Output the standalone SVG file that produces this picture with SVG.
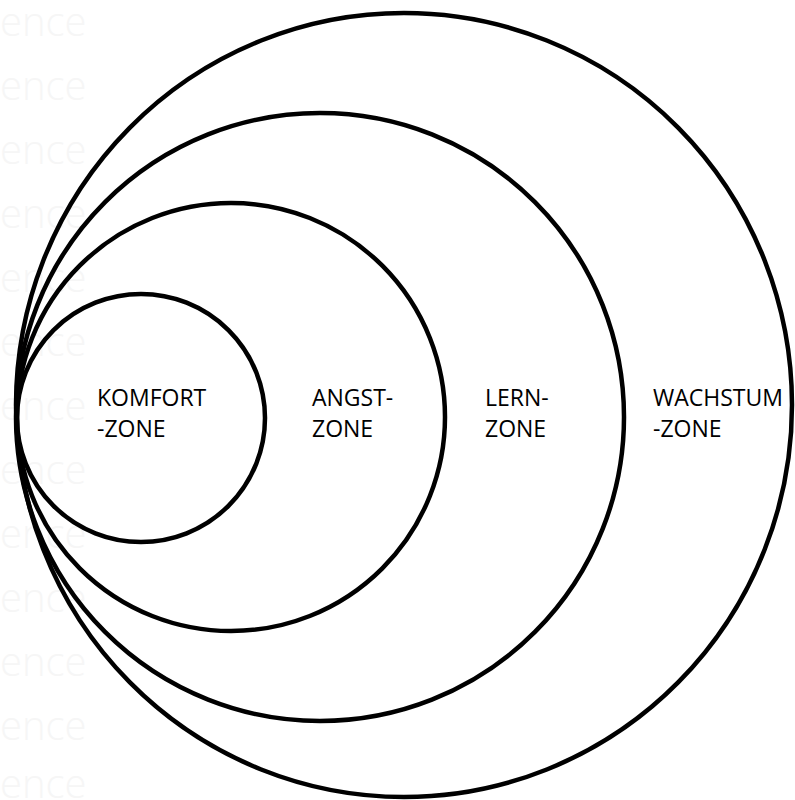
<svg xmlns="http://www.w3.org/2000/svg" width="795" height="800" viewBox="0 0 795 800">
<style>
.zone{fill:none;stroke:#000;stroke-width:4.5}
.lbl{font-family:"Open Sans","Liberation Sans",sans-serif;font-size:23px;fill:#000}
.wm{font-family:"Open Sans","Liberation Sans",sans-serif;font-weight:300;font-size:40px;fill:#f6f6f6}
</style>
<rect width="795" height="800" fill="#fff"/>
<g id="watermark">
<text class="wm" x="0" y="36">ence</text>
<text class="wm" x="0" y="100">ence</text>
<text class="wm" x="0" y="164">ence</text>
<text class="wm" x="0" y="228">ence</text>
<text class="wm" x="0" y="292">ence</text>
<text class="wm" x="0" y="356">ence</text>
<text class="wm" x="0" y="420">ence</text>
<text class="wm" x="0" y="484">ence</text>
<text class="wm" x="0" y="548">ence</text>
<text class="wm" x="0" y="612">ence</text>
<text class="wm" x="0" y="676">ence</text>
<text class="wm" x="0" y="740">ence</text>
<text class="wm" x="0" y="798">ence</text>
</g>
<g id="wachstum">
<ellipse class="zone" cx="404" cy="405" rx="388" ry="392"/>
<text class="lbl" x="653" y="406">WACHSTUM</text>
<text class="lbl" x="653" y="437">-ZONE</text>
</g>
<g id="lern">
<circle class="zone" cx="320" cy="417" r="304"/>
<text class="lbl" x="485" y="406">LERN-</text>
<text class="lbl" x="485" y="437">ZONE</text>
</g>
<g id="angst">
<circle class="zone" cx="231" cy="417" r="214"/>
<text class="lbl" x="312" y="406">ANGST-</text>
<text class="lbl" x="312" y="437">ZONE</text>
</g>
<g id="komfort">
<circle class="zone" cx="141" cy="418" r="124"/>
<text class="lbl" x="97" y="406">KOMFORT</text>
<text class="lbl" x="97" y="437">-ZONE</text>
</g>
</svg>
